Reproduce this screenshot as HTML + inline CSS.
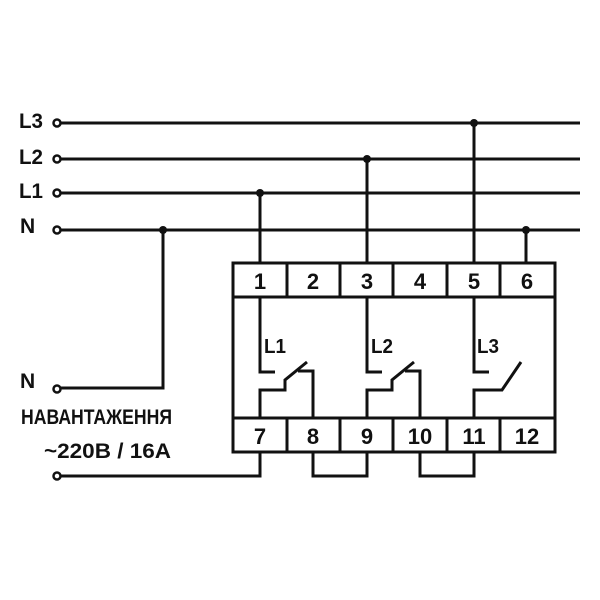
<!DOCTYPE html>
<html><head><style>body{margin:0;background:#fff}svg{display:block}text{font-family:"Liberation Sans",sans-serif;font-weight:bold;fill:#111}</style></head>
<body>
<svg width="600" height="600" viewBox="0 0 600 600" xmlns="http://www.w3.org/2000/svg">
<g stroke="#111" stroke-width="3" fill="none">
<line x1="61" y1="123" x2="580" y2="123"/>
<line x1="61" y1="159" x2="580" y2="159"/>
<line x1="61" y1="193" x2="580" y2="193"/>
<line x1="61" y1="230" x2="580" y2="230"/>
<circle cx="57" cy="123" r="3.5" stroke-width="2.5" fill="#fff"/>
<circle cx="57" cy="159" r="3.5" stroke-width="2.5" fill="#fff"/>
<circle cx="57" cy="193" r="3.5" stroke-width="2.5" fill="#fff"/>
<circle cx="57" cy="230" r="3.5" stroke-width="2.5" fill="#fff"/>
<circle cx="57" cy="389" r="3.5" stroke-width="2.5" fill="#fff"/>
<circle cx="57" cy="476" r="3.5" stroke-width="2.5" fill="#fff"/>
<polyline points="163,230 163,388 61,388"/>
<line x1="260" y1="193" x2="260" y2="263"/>
<line x1="367" y1="159" x2="367" y2="263"/>
<line x1="474" y1="123" x2="474" y2="263"/>
<line x1="526" y1="230" x2="526" y2="263"/>
<rect x="233" y="263" width="322" height="189"/>
<line x1="233" y1="297" x2="555" y2="297"/>
<line x1="233" y1="418" x2="555" y2="418"/>
<line x1="287" y1="263" x2="287" y2="297"/><line x1="340" y1="263" x2="340" y2="297"/><line x1="393" y1="263" x2="393" y2="297"/><line x1="447" y1="263" x2="447" y2="297"/><line x1="500" y1="263" x2="500" y2="297"/>
<line x1="287" y1="418" x2="287" y2="452"/><line x1="340" y1="418" x2="340" y2="452"/><line x1="393" y1="418" x2="393" y2="452"/><line x1="447" y1="418" x2="447" y2="452"/><line x1="500" y1="418" x2="500" y2="452"/>
<g>
<polyline points="260,297 260,372 275,372"/>
<polyline points="260,418 260,390 285,390 285,380 307,362"/>
<polyline points="313,418 313,371 298,371"/>
</g>
<g transform="translate(107,0)">
<polyline points="260,297 260,372 275,372"/>
<polyline points="260,418 260,390 285,390 285,380 307,362"/>
<polyline points="313,418 313,371 298,371"/>
</g>
<g transform="translate(214,0)">
<polyline points="260,297 260,372 275,372"/>
<polyline points="260,418 260,390 288,390 307,362"/>
</g>
<polyline points="260,452 260,476 61,476"/>
<polyline points="313,452 313,476 367,476 367,452"/>
<polyline points="420,452 420,476 474,476 474,452"/>
</g>
<g fill="#111">
<circle cx="163" cy="230" r="4"/><circle cx="260" cy="193" r="4"/><circle cx="367" cy="159" r="4"/><circle cx="474" cy="123" r="4"/><circle cx="526" cy="230" r="4"/>
</g>
<g font-size="21">
<text x="19" y="128" textLength="24" lengthAdjust="spacingAndGlyphs">L3</text><text x="19" y="164" textLength="24" lengthAdjust="spacingAndGlyphs">L2</text><text x="19" y="198" textLength="24" lengthAdjust="spacingAndGlyphs">L1</text><text x="20" y="233">N</text>
<text x="20" y="388">N</text>
<text x="21" y="424" textLength="151" lengthAdjust="spacingAndGlyphs">НАВАНТАЖЕННЯ</text>
<text x="44" y="458" textLength="127" lengthAdjust="spacingAndGlyphs">~220В / 16А</text>
</g>
<g font-size="22" text-anchor="middle">
<text x="260" y="289">1</text><text x="313" y="289">2</text><text x="367" y="289">3</text><text x="420" y="289">4</text><text x="474" y="289">5</text><text x="527" y="289">6</text>
<text x="260" y="444">7</text><text x="313" y="444">8</text><text x="367" y="444">9</text><text x="420" y="444">10</text><text x="474" y="444">11</text><text x="527" y="444">12</text>
</g>
<g font-size="20">
<text x="264" y="353" textLength="22" lengthAdjust="spacingAndGlyphs">L1</text><text x="371" y="353" textLength="22" lengthAdjust="spacingAndGlyphs">L2</text><text x="477" y="353" textLength="22" lengthAdjust="spacingAndGlyphs">L3</text>
</g>
</svg>
</body></html>
